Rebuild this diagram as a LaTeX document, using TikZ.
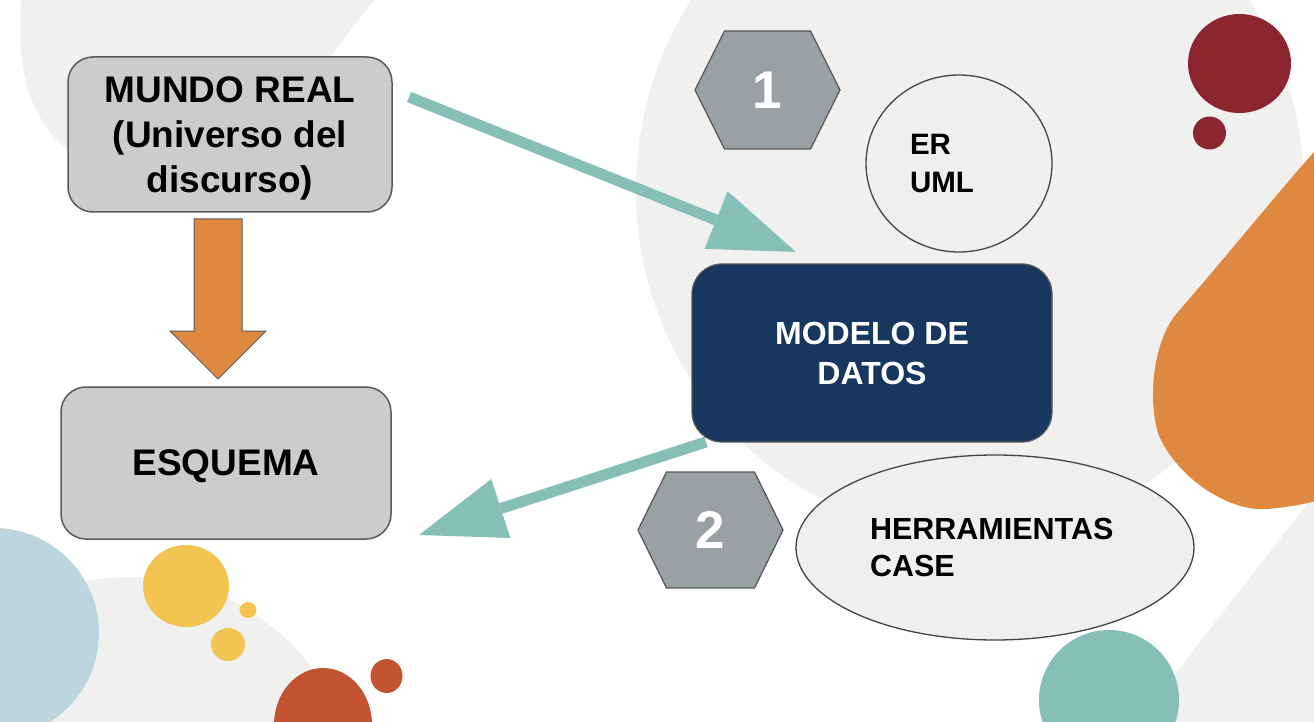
\documentclass[tikz,border=0pt]{standalone}
\usepackage{fontspec}
\setmainfont{Liberation Sans}
\usetikzlibrary{arrows.meta,shapes.geometric}
\definecolor{bggray}{HTML}{F0F0EF}
\definecolor{boxgray}{HTML}{CCCCCC}
\definecolor{boxline}{HTML}{595959}
\definecolor{navy}{HTML}{17375E}
\definecolor{hexgray}{HTML}{9AA1A4}
\definecolor{tealc}{HTML}{86BFB7}
\definecolor{orangec}{HTML}{DF883F}
\definecolor{darkred}{HTML}{8B2530}
\definecolor{redorange}{HTML}{C25230}
\definecolor{yellowc}{HTML}{F2C552}
\definecolor{lightblue}{HTML}{BCD5DE}
\definecolor{ellfill}{HTML}{EFEFEF}
\definecolor{ellline}{HTML}{444444}
\begin{document}
\begin{tikzpicture}[x=1pt,y=-1pt,
  graybox/.style={draw=boxline, line width=1.5pt, fill=boxgray, rounded corners=25pt,
    inner sep=0pt, align=center, text depth=0pt,
    font=\bfseries\fontsize{37}{45}\selectfont},
  navybox/.style={draw=boxline, line width=1.2pt, fill=navy, rounded corners=30pt,
    inner sep=0pt, align=center, text depth=0pt, text=white,
    font=\bfseries\fontsize{32}{40}\selectfont},
  ellbox/.style={ellipse, draw=ellline, line width=1.3pt, fill=ellfill,
    inner sep=0pt, align=left},
  hexstyle/.style={draw=boxline, line width=1.3pt, fill=hexgray},
  hexnum/.style={text=white, inner sep=0pt, text depth=0pt,
    font=\bfseries\fontsize{53}{60}\selectfont},
  tealarrow/.style={draw=tealc, line width=11pt,
    -{Triangle[length=86pt,width=62pt,line width=0pt]}},
  orangearrow/.style={draw=boxline, line width=1pt, fill=orangec, line join=miter}
]
\clip (0,0) rectangle (1314,722);
\useasboundingbox (0,0) rectangle (1314,722);

% background blobs
\fill[bggray] (22,-5) -- (378,-5) -- (330,57) -- (300,100) -- (150,180) -- (68,150)
  .. controls (25,115) and (16,60) .. (22,-5) -- cycle;
\fill[bggray] (970,190) ellipse [x radius=334pt, y radius=345pt];
\fill[bggray] (130,805) circle [radius=228pt];
\fill[bggray] (1314,495) .. controls (1260,565) and (1200,640) .. (1140,722)
  -- (1320,730) -- (1320,495) -- cycle;
\fill[lightblue] (-6,633) circle [radius=105pt];
\fill[yellowc] (186,586) ellipse [x radius=43pt, y radius=41pt];
\fill[yellowc] (248,610) ellipse [x radius=8.5pt, y radius=8pt];
\fill[yellowc] (228,644.5) ellipse [x radius=17pt, y radius=16.5pt];
\fill[redorange] (323,725) ellipse [x radius=49pt, y radius=57pt];
\fill[redorange] (386.5,676) ellipse [x radius=16pt, y radius=17pt];
\fill[orangec] (1320,140) -- (1314,152) .. controls (1280,190) and (1215,270) .. (1177,313)
  .. controls (1150,345) and (1148,410) .. (1160,438)
  .. controls (1180,480) and (1230,512) .. (1267,509)
  .. controls (1290,507) and (1305,504) .. (1320,500) -- cycle;
\fill[darkred] (1239.5,63.5) ellipse [x radius=51.5pt, y radius=49.5pt];
\fill[darkred] (1209.5,133) circle [radius=16.5pt];
\fill[tealc] (1109,700) circle [radius=70pt];

% connectors' free ends
\coordinate (t1s) at (409,97);
\coordinate (t1e) at (796,252);
\coordinate (t2s) at (706,442);
\coordinate (t2e) at (419,535);
\coordinate (oa) at (218,219);
\coordinate (h1c) at (767.5,90);
\coordinate (h2c) at (710.5,530);

% main nodes
\node[graybox, minimum width=324pt, minimum height=155pt] (mundo) at (230,134.5)
  {MUNDO REAL\\(Universo del\\discurso)};
\node[graybox, minimum width=330pt, minimum height=152pt] (esquema) at (226,463) {ESQUEMA};

\draw[orangearrow, shift={(oa)}] (-24,0) -- (24,0) -- (24,112) -- (48,112) -- (0,160)
  -- (-48,112) -- (-24,112) -- cycle;

\draw[tealarrow] (t1s) -- (t1e);
\draw[tealarrow] (t2s) -- (t2e);

\node[navybox, minimum width=360pt, minimum height=178pt] (modelo) at (872,353)
  {MODELO DE\\DATOS};

\node[ellbox, minimum width=186pt, minimum height=177pt, text width=98pt,
  font=\bfseries\fontsize{29.5}{38}\selectfont] (er) at (959,163.5) {ER\\UML};
\node[ellbox, minimum width=398pt, minimum height=185pt, text width=250pt,
  font=\bfseries\fontsize{30.5}{37}\selectfont] (herr) at (995,547.5) {HERRAMIENTAS\\CASE};

\draw[hexstyle, shift={(h1c)}] (-72.5,0) -- (-43,-59) -- (43,-59) -- (72.5,0)
  -- (43,59) -- (-43,59) -- cycle;
\node[hexnum] (h1) at (h1c) {1};
\draw[hexstyle, shift={(h2c)}] (-72.5,0) -- (-44,-58) -- (44,-58) -- (72.5,0)
  -- (44,58) -- (-44,58) -- cycle;
\node[hexnum] (h2) at (h2c) {2};
\end{tikzpicture}
\end{document}
